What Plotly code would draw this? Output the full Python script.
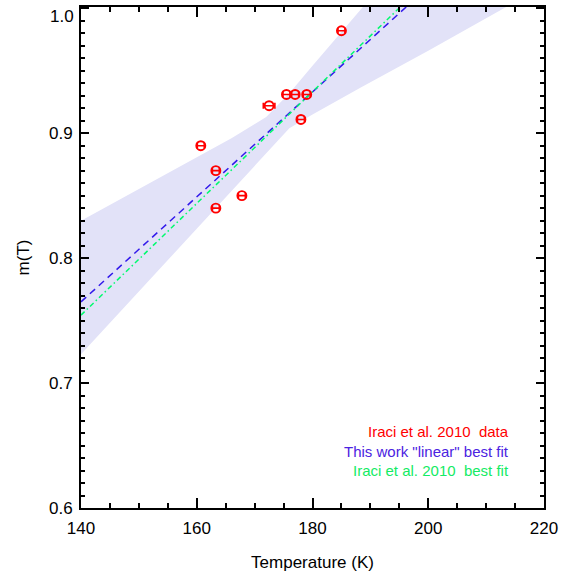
import plotly.graph_objects as go

# Data points (Iraci et al. 2010)
temp_K = [160.7, 163.3, 163.3, 167.8, 172.5, 175.5, 177.0, 178.0, 179.0, 185.0]
m_T = [0.890, 0.870, 0.840, 0.850, 0.922, 0.931, 0.931, 0.911, 0.931, 0.982]
temp_err = [0.6, 0.6, 0.6, 0.6, 1.0, 0.6, 0.6, 0.6, 0.6, 0.6]

# Confidence band
band_T = [140, 160, 166, 172, 176, 180, 188.5, 200, 213.5, 220]
band_upper = [0.830, 0.881, 0.896, 0.913, 0.932, 0.954, 1.000, 1.062, 1.135, 1.170]
band_lower = [0.723, 0.824, 0.854, 0.884, 0.904, 0.915, 0.937, 0.966, 1.001, 1.018]

# Best-fit lines
fit_T = [140, 220]
this_work_fit = [0.765, 1.101]
iraci_fit = [0.7544, 1.112]

# Axis ticks
x_ticks = [140, 160, 180, 200, 220]
y_ticks = [0.6, 0.7, 0.8, 0.9, 1.0]
y_ticktext = ["0.6", "0.7", "0.8", "0.9", ""]

BLUE = "rgb(50,25,235)"
GREEN = "rgb(0,250,110)"
RED = "rgb(255,0,0)"
FONT = "Liberation Sans, Arial, Helvetica, sans-serif"

fig = go.Figure()

fig.add_trace(go.Scatter(x=band_T, y=band_lower, mode="lines",
                         line=dict(width=0, color="rgba(0,0,0,0)"),
                         showlegend=False, hoverinfo="skip"))
fig.add_trace(go.Scatter(x=band_T, y=band_upper, mode="lines",
                         line=dict(width=0, color="rgba(0,0,0,0)"),
                         fill="tonexty", fillcolor="rgb(226,226,248)",
                         showlegend=False, hoverinfo="skip"))

fig.add_trace(go.Scatter(x=fit_T, y=this_work_fit, mode="lines",
                         line=dict(color=BLUE, width=1.5, dash="7px,5px"),
                         showlegend=False))
fig.add_trace(go.Scatter(x=fit_T, y=iraci_fit, mode="lines",
                         line=dict(color=GREEN, width=1.5, dash="5px,3px,1.5px,3px"),
                         showlegend=False))

fig.add_trace(go.Scatter(
    x=temp_K, y=m_T, mode="markers",
    marker=dict(symbol="circle-open", size=9, color=RED, line=dict(width=1.9, color=RED)),
    error_x=dict(type="data", array=temp_err, color=RED, thickness=1.6, width=3),
    showlegend=False))

labels = [("Iraci et al. 2010\u00a0 data", RED, 0.1523),
          ("This work \"linear\" best fit", "rgb(75,35,225)", 0.1124),
          ("Iraci et al. 2010\u00a0 best fit", "rgb(20,235,100)", 0.0739)]
for txt, col, yy in labels:
    fig.add_annotation(x=0.9287, y=yy, xref="paper", yref="paper", text=txt,
                       showarrow=False, xanchor="right", yanchor="middle",
                       font=dict(family=FONT, size=15, color=col))

# top y label (drawn slightly below the top edge, as in the reference)
fig.add_annotation(x=0, y=0.982, xref="paper", yref="paper", text="1.0",
                   showarrow=False, xanchor="right", yanchor="middle", xshift=-5,
                   font=dict(family=FONT, size=17, color="black"))

axis_common = dict(showline=True, linecolor="black", linewidth=2, mirror="ticks",
                   ticks="inside", tickcolor="black", tickwidth=1.5,
                   showgrid=False, zeroline=False, automargin=False,
                   ticklabeloverflow="allow",
                   tickfont=dict(family=FONT, size=17, color="black"))

fig.update_xaxes(range=[140, 220], tickmode="array", tickvals=x_ticks, ticklen=10,
                 minor=dict(dtick=5, tick0=140, ticks="inside", ticklen=5, tickwidth=1.5,
                            tickcolor="black"),
                 ticklabelstandoff=4,
                 title=dict(text="Temperature (K)", font=dict(family=FONT, size=17, color="black"),
                            standoff=19),
                 **axis_common)
fig.update_yaxes(range=[0.6, 1.001], tickmode="array", tickvals=y_ticks, ticktext=y_ticktext,
                 ticklen=8,
                 minor=dict(dtick=0.01, tick0=0.6, ticks="inside", ticklen=4, tickwidth=1.5,
                            tickcolor="black"),
                 ticklabelstandoff=3,
                 title=dict(text="m(T)", font=dict(family=FONT, size=17, color="black"),
                            standoff=15),
                 **axis_common)

fig.update_layout(width=563, height=579, margin=dict(l=81, r=19, t=7, b=71),
                  plot_bgcolor="white", paper_bgcolor="white", showlegend=False,
                  font=dict(family=FONT))

fig.write_html("out.html", config={"displayModeBar": False},
               post_script="document.body.style.margin='0';")
